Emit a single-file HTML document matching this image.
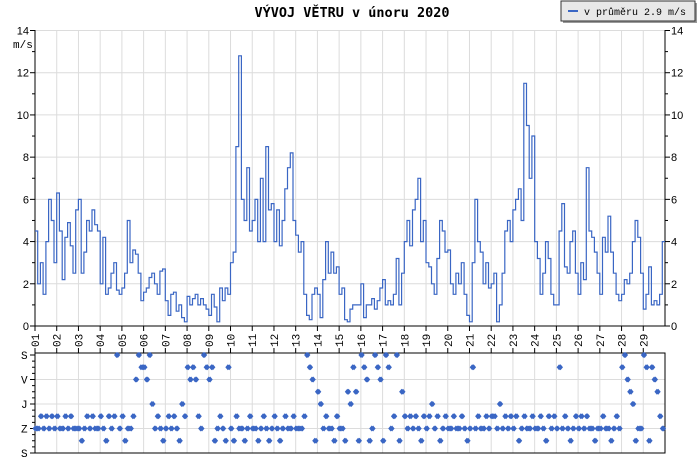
<!DOCTYPE html>
<html><head><meta charset="utf-8"><style>
body{margin:0;background:#fff;}
svg{display:block;font-family:"Liberation Sans",sans-serif;}
.t{font-size:11px;fill:#000;}
.m{font-family:"Liberation Mono",monospace;font-size:11px;fill:#000;}
</style></head><body>
<svg id="c" width="700" height="460" viewBox="0 0 700 460">
<text x="352" y="17" text-anchor="middle" font-weight="bold" font-size="13.5" font-family="DejaVu Sans Mono, monospace">VÝVOJ VĚTRU v únoru 2020</text>
<g>
<rect x="563" y="3" width="134" height="20" fill="#999"/>
<rect x="561" y="1" width="134" height="20" fill="#e8e8e8" stroke="#333"/>
<line x1="568" y1="11" x2="578" y2="11" stroke="#3a66c4" stroke-width="2"/>
<text x="584" y="15" class="m" font-size="10" style="font-size:10px">v průměru 2.9 m/s</text>
</g>
<g id="grid"></g><g id="axes"></g><g id="marks"></g>
</svg>
<script>
const days=["01","02","03","04","05","06","07","08","09","10","11","12","13","14","15","16","17","18","19","20","21","22","23","24","25","26","27","28","29"];
const speedTicks=[0,2,4,6,8,10,12,14];
const dirLabels=["S","V","J","Z","S"];
const speed=[
4.5,2,3,1.5,4,6,5,3,
6.3,4.5,2.2,4.2,4.9,3.8,2.5,5.5,
6,2.5,3.5,5,4.5,5.5,4.8,4.5,
2,4.2,1.5,1.8,2.5,3,1.7,1.5,
1.8,2.5,5,3,3.6,3.4,2.5,1.2,
1.6,1.8,2.3,2.5,2,1.5,2.6,2.7,
1.2,0.5,1.5,1.6,0.7,1.0,0.4,0.2,
1.4,1.0,1.3,1.5,1.0,1.3,1.0,0.8,
0.5,1.5,0.9,0.2,1.8,1.2,1.8,1.5,
3,3.5,8.5,12.8,6,5,7.5,4.5,
5,6,4,7,4,8.5,5.5,5.8,
4,5.5,3.8,5,6.5,7.5,8.2,5,
4.3,3.5,4,1.5,0.5,0.3,1.5,1.8,
1.5,0.4,2.2,4,2.5,3.5,2.5,2.8,
1.5,1.8,0.3,0.2,0.8,1.0,1.0,1.0,
2,0.4,1.0,1.0,1.3,0.8,1.2,1.8,
2.2,1.0,1.2,1.0,1.5,3.2,1.0,2.5,
4,5,3.8,5.5,6,7,4,5,
3,2.8,2,1.5,3.2,5,4.5,3.5,
3.6,2,1.5,2.5,2,3,1.5,0.5,
0.2,3,6,4,3.5,2,3,1.8,
2,2.5,0.2,1,2.5,4.5,5,4,
5.5,6,6.5,5,11.5,9.5,7,9,
4,3.2,1.5,2.5,4,3.2,1.5,1.0,
1.0,4.5,5.8,2.8,2.5,4,4.5,2.5,
1.5,3,2.2,7.5,4.5,4.2,3.5,2.5,
1.5,4.2,3.5,5.2,3.5,2.5,1.5,1.2,
1.5,2.2,2,2.5,4,5,4.2,2.5,
0.8,1.5,2.8,1,1.2,1.0,1.5,4];
const direction=[
270,270,225,270,225,270,225,270,
225,270,270,225,270,225,270,270,
270,315,270,225,270,225,270,270,
225,270,315,225,270,225,0,270,
225,315,270,270,225,90,0,45,
45,90,0,180,270,225,270,315,
270,225,270,225,270,315,180,225,
45,90,45,90,225,270,0,45,
90,45,315,270,225,270,315,45,
270,315,225,270,270,315,270,225,
270,270,315,270,225,270,315,270,
225,270,315,270,225,270,270,225,
270,270,270,225,0,45,90,315,
135,180,270,225,270,270,315,225,
270,270,315,135,180,45,135,315,
0,45,90,315,270,0,45,90,
315,0,45,270,225,0,315,135,
225,270,225,270,225,270,315,225,
270,225,180,270,225,315,270,225,
270,270,225,270,270,225,270,315,
270,45,270,225,270,270,225,270,
225,225,270,180,270,225,270,225,
270,225,315,270,225,270,270,225,
270,270,225,270,315,225,270,225,
270,45,270,225,270,315,270,225,
270,225,270,225,270,270,315,270,
270,225,270,270,315,270,225,270,
45,0,90,135,180,315,270,270,
0,45,315,45,90,135,225,270];
const NS="http://www.w3.org/2000/svg";
const X0=35,X1=665,NDAYS=29;
const xDay=d=>X0+d*(X1-X0)/NDAYS;
const yS=v=>326-v*(326-30.5)/14;
const yD=g=>355+g*(453-355)/360;
function mk(tag,attrs,parent,txt){const e=document.createElementNS(NS,tag);for(const k in attrs)e.setAttribute(k,attrs[k]);if(txt!==undefined)e.textContent=txt;parent.appendChild(e);return e;}
const grid=document.getElementById('grid'),axes=document.getElementById('axes'),marks=document.getElementById('marks');
speedTicks.forEach(v=>{if(v>0){const l=mk('line',{x1:X0,x2:X1,y1:yS(v),y2:yS(v),stroke:'#dcdcdc'},grid);

}
const a=mk('text',{x:29,y:yS(v)+4,'text-anchor':'end',class:'t'},axes,String(v));


const b=mk('text',{x:671,y:yS(v)+4,class:'t'},axes,String(v));

});
for(let v=0;v<=14;v++){mk('line',{x1:X0-(v%2?3:5),x2:X0,y1:yS(v),y2:yS(v),stroke:'#000'},axes);mk('line',{x1:X1,x2:X1+(v%2?3:5),y1:yS(v),y2:yS(v),stroke:'#000'},axes);}
const u=mk('text',{x:13,y:48,class:'m','font-size':'10'},axes,'m/s');


days.forEach((d,i)=>{const x=xDay(i);
if(i>0){const g1=mk('line',{x1:x,x2:x,y1:30,y2:326,stroke:'#dcdcdc'},grid);


mk('line',{x1:x,x2:x,y1:353,y2:453,stroke:'#dcdcdc'},grid);}
mk('line',{x1:x,x2:x,y1:326,y2:331,stroke:'#000'},axes);
mk('line',{x1:x,x2:x,y1:348,y2:353,stroke:'#000'},axes);
const t=mk('text',{x:0,y:0,class:'m',transform:`translate(${x+4},347) rotate(-90)`},axes,d);

});
dirLabels.forEach((s,i)=>{const y=yD(i*90);
if(i>0&&i<4)mk('line',{x1:X0,x2:X1,y1:y,y2:y,stroke:'#dcdcdc'},grid);
const t=mk('text',{x:21,y:y+4,class:'m'},axes,s);

});
for(let k=0;k<=16;k++)mk('line',{x1:X0-(k%4?3:5),x2:X0,y1:yD(k*22.5),y2:yD(k*22.5),stroke:'#000'},axes);
mk('path',{d:`M${X0} 30V326H${X1}V30`,fill:'none',stroke:'#000'},axes);
mk('rect',{x:X0,y:353,width:X1-X0,height:100,fill:'none',stroke:'#000'},axes);
// step line
const n=speed.length;
let d=`M${xDay(0).toFixed(1)} ${yS(speed[0]).toFixed(1)}`;
speed.forEach((v,i)=>{const xa=xDay(i*NDAYS/n),xb=xDay((i+1)*NDAYS/n);
d+=`V${yS(v).toFixed(1)}H${xb.toFixed(1)}`;});
const line=mk('path',{d:d,fill:'none',stroke:'#3a66c4','stroke-width':1.2},marks);


const m=direction.length;
direction.forEach((g,i)=>{const xa=xDay(i*NDAYS/m),xb=xDay((i+0.5)*NDAYS/m),y=yD(g);
const c=mk('path',{d:`M${xa.toFixed(1)} ${(y-3).toFixed(1)}l2.5 3l-2.5 3l-2.5-3zM${xb.toFixed(1)} ${(y-3).toFixed(1)}l2.5 3l-2.5 3l-2.5-3z`,fill:'#3a66c4'},marks);

});
</script>
</body></html>
